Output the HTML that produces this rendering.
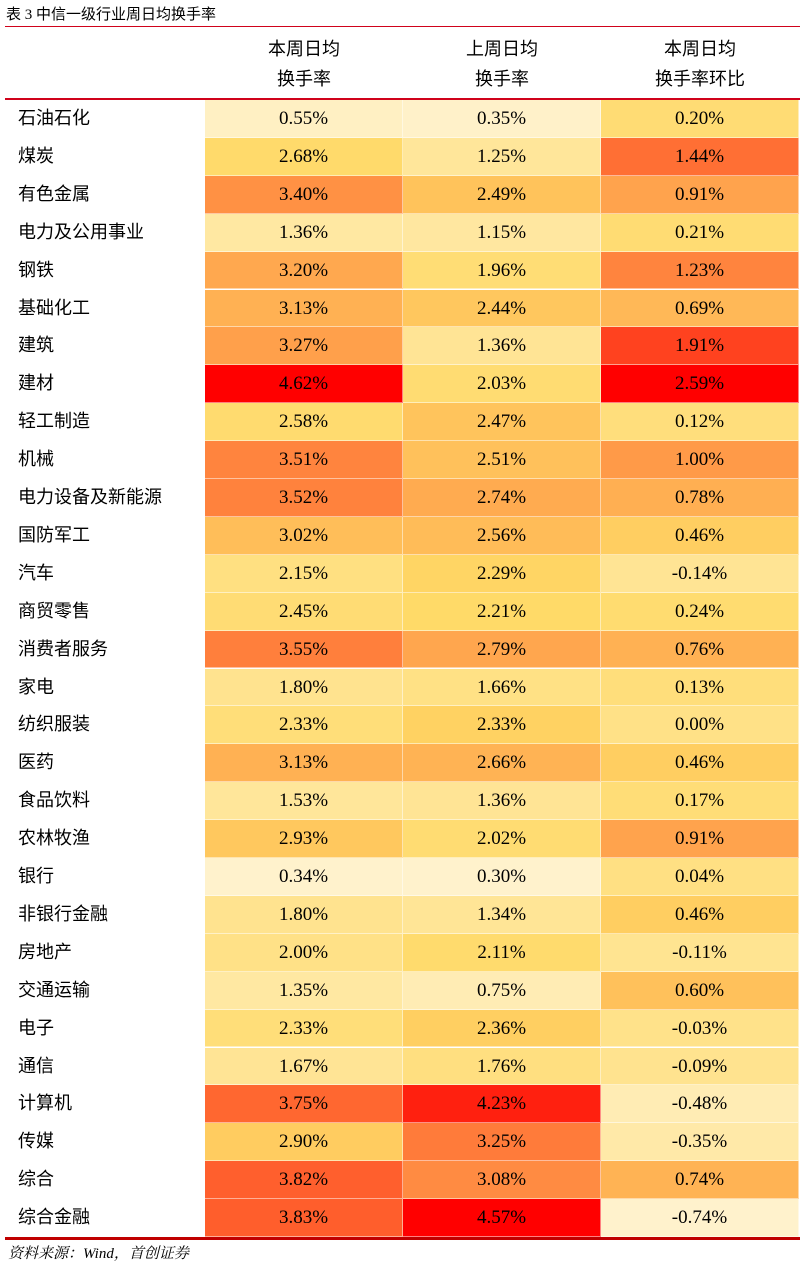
<!DOCTYPE html>
<html><head><meta charset="utf-8">
<style>
body{margin:0;width:805px;height:1266px;background:#fff;position:relative;overflow:hidden;font-family:"Liberation Serif","Noto Serif CJK SC",serif;}
#title{position:absolute;left:6px;top:3px;font:15px "Liberation Serif","Noto Sans CJK SC",sans-serif;color:#000;}
.rl{position:absolute;left:5px;width:795px;background:#d0021b;}
.hd{position:absolute;top:34px;width:198px;text-align:center;font:18px/30px "Liberation Sans","Noto Sans CJK SC",sans-serif;color:#000;}
.cell{position:absolute;box-sizing:border-box;border-right:1px solid rgba(255,255,255,.5);border-bottom:1px solid rgba(255,255,255,.5);text-align:center;font-size:19px;color:#000;}
.lab{position:absolute;left:18px;font:18px "Liberation Sans","Noto Sans CJK SC",sans-serif;color:#000;}
#src{position:absolute;left:8px;top:1242px;font:italic 15px "Liberation Serif","Noto Serif CJK SC",serif;color:#000;}
</style></head><body>
<div id="title">表 3 中信一级行业周日均换手率</div>
<div class="rl" style="top:26px;height:1px"></div>
<div class="hd" style="left:205px">本周日均<br>换手率</div>
<div class="hd" style="left:403px">上周日均<br>换手率</div>
<div class="hd" style="left:601px">本周日均<br>换手率环比</div>
<div class="rl" style="top:98px;height:2px"></div>
<div id="tbl"></div>
<div class="rl" style="top:1237px;height:3px;background:#c00000"></div>
<div id="src">资料来源：Wind，首创证券</div>
<script>
const industries=["石油石化","煤炭","有色金属","电力及公用事业","钢铁","基础化工","建筑","建材","轻工制造","机械","电力设备及新能源","国防军工","汽车","商贸零售","消费者服务","家电","纺织服装","医药","食品饮料","农林牧渔","银行","非银行金融","房地产","交通运输","电子","通信","计算机","传媒","综合","综合金融"];
const thisWeek=[0.55,2.68,3.40,1.36,3.20,3.13,3.27,4.62,2.58,3.51,3.52,3.02,2.15,2.45,3.55,1.80,2.33,3.13,1.53,2.93,0.34,1.80,2.00,1.35,2.33,1.67,3.75,2.90,3.82,3.83];
const lastWeek=[0.35,1.25,2.49,1.15,1.96,2.44,1.36,2.03,2.47,2.51,2.74,2.56,2.29,2.21,2.79,1.66,2.33,2.66,1.36,2.02,0.30,1.34,2.11,0.75,2.36,1.76,4.23,3.25,3.08,4.57];
const change=[0.20,1.44,0.91,0.21,1.23,0.69,1.91,2.59,0.12,1.00,0.78,0.46,-0.14,0.24,0.76,0.13,0.00,0.46,0.17,0.91,0.04,0.46,-0.11,0.60,-0.03,-0.09,-0.48,-0.35,0.74,-0.74];
const cols=[thisWeek,lastWeek,change];
const lo=[255,242,204],mid=[255,217,102],hi=[255,0,0];
function median(a){const s=[...a].sort((x,y)=>x-y);const n=s.length;return n%2?s[(n-1)/2]:(s[n/2-1]+s[n/2])/2;}
function mix(a,b,t){return 'rgb('+a.map((v,i)=>Math.round(v+(b[i]-v)*t)).join(',')+')';}
function color(v,arr){const mn=Math.min(...arr),mx=Math.max(...arr),md=median(arr);
 if(v<=md)return mix(lo,mid,md===mn?1:(v-mn)/(md-mn));return mix(mid,hi,(v-md)/(mx-md));}
const tbl=document.getElementById('tbl');
const top0=100,rh=(1237-100)/30,colX=[205,403,601],cw=198;
industries.forEach((name,i)=>{
 const y=top0+i*rh;
 const l=document.createElement('div');l.className='lab';
 
 
 l.style.top=y+'px';l.style.lineHeight=rh+'px';l.textContent=name;tbl.appendChild(l);
 cols.forEach((arr,j)=>{
  const c=document.createElement('div');c.className='cell';
  
  
  c.style.left=colX[j]+'px';c.style.top=y+'px';c.style.width=cw+'px';c.style.height=rh+'px';
  c.style.lineHeight=rh+'px';c.style.background=color(arr[i],arr);
  c.textContent=arr[i].toFixed(2)+'%';tbl.appendChild(c);
 });
});
</script>
</body></html>
